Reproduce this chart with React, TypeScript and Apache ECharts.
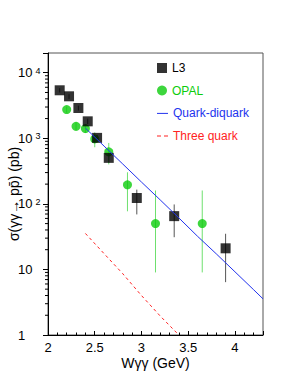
import React, { useEffect, useRef } from "react";
import * as echarts from "echarts";

const l3W = [2.125, 2.225, 2.325, 2.425, 2.525, 2.65, 2.95, 3.35, 3.9];
const l3Val = [5400, 4370, 2900, 1815, 1015, 503, 123, 65, 21];
const l3Lo = [5000, 4000, 2650, 1650, 900, 420, 69, 31, 6.4];
const l3Hi = [5800, 4700, 3150, 2000, 1130, 590, 165, 98, 35];

const opalW = [2.2, 2.3, 2.4, 2.5, 2.65, 2.85, 3.15, 3.65];
const opalVal = [2740, 1524, 1406, 979, 623, 195, 50, 50];
const opalLo = [2450, 1300, 1200, 730, 400, 77, 9, 9];
const opalHi = [3050, 1750, 1600, 1230, 850, 303, 160, 160];

const qdW = [2.4, 2.6, 2.8, 3.0, 3.2, 3.4, 3.6, 3.8, 4.0, 4.2, 4.3];
const qdVal = [1430, 760, 405, 215, 115, 61, 32, 17.3, 9.2, 4.9, 3.56];

const tqW = [2.4, 2.6, 2.8, 3.0, 3.2, 3.4];
const tqVal = [35.4, 17.4, 8.6, 4.0, 1.95, 1.0];

const yMinorTicks = [2, 3, 4, 5, 6, 7, 8, 9, 20, 30, 40, 50, 60, 70, 80, 90, 200, 300, 400, 500, 600, 700, 800, 900, 2000, 3000, 4000, 5000, 6000, 7000, 8000, 9000];
const yPowerLabels: Record<number, string> = { 1: "{b|1}", 10: "{b|10}", 100: "{b|10}{s|2}", 1000: "{b|10}{s|3}", 10000: "{b|10}{s|4}" };

const FONT = "Liberation Sans, Arial, Helvetica, sans-serif";
const GREEN = "#0ccc0c";
const BLUE = "#2233ee";
const RED = "#ff2222";

export default function App() {
  const ref = useRef<HTMLDivElement>(null);
  useEffect(() => {
    if (!ref.current) return;
    const chart = echarts.init(ref.current, undefined, { renderer: "svg" });
    const errBar = (color: string) => (params: any, api: any) => {
      const lo = api.coord([api.value(0), api.value(1)]);
      const hi = api.coord([api.value(0), api.value(2)]);
      return {
        type: "line",
        shape: { x1: lo[0], y1: lo[1], x2: hi[0], y2: hi[1] },
        style: { stroke: color, lineWidth: 1 },
      };
    };
    chart.setOption({
      animation: false,
      textStyle: { fontFamily: FONT },
      grid: {
        left: 48,
        right: 28,
        top: 53,
        bottom: 41,
        show: true,
        borderColor: "#555",
        borderWidth: 1,
        containLabel: false,
        outerBoundsMode: "none",
      },
      legend: [
        {
          orient: "vertical",
          left: 152,
          top: 57,
          itemWidth: 10,
          itemHeight: 10,
          itemGap: 10.5,
          textStyle: { fontSize: 12, fontFamily: FONT },
          data: [
            { name: "L3", icon: "rect", textStyle: { color: "#000" } },
            { name: "OPAL", icon: "circle", textStyle: { color: GREEN } },
          ],
        },
        {
          orient: "vertical",
          left: 152,
          top: 102.4,
          itemWidth: 11,
          itemHeight: 1,
          itemGap: 10.5,
          textStyle: { fontSize: 12, fontFamily: FONT },
          data: [
            { name: "Quark-diquark", icon: "rect", textStyle: { color: BLUE } },
            { name: "Three quark", icon: "path://M0,0h4v1h-4zM7,0h4v1h-4z", textStyle: { color: RED } },
          ],
        },
      ],
      xAxis: [
        {
          type: "value",
          min: 2,
          max: 4.3,
          interval: 0.5,
          name: "Wγγ (GeV)",
          nameLocation: "middle",
          nameGap: 21,
          nameMoveOverlap: false,
          nameTextStyle: { fontSize: 14, color: "#000", fontFamily: FONT },
          axisLine: { show: true, lineStyle: { color: "#000", width: 1 } },
          axisTick: { show: true, inside: true, length: 4, lineStyle: { color: "#000" } },
          axisLabel: {
            color: "#000",
            fontSize: 13,
            margin: 6,
            fontFamily: FONT,
            formatter: (v: number) => (Math.abs(v * 2 - Math.round(v * 2)) < 1e-6 ? String(v) : ""),
          },
          splitLine: { show: false },
        },
        {
          type: "value",
          min: 2,
          max: 4.3,
          interval: 0.1,
          position: "bottom",
          axisLine: { show: false },
          axisTick: { show: true, inside: true, length: 2.5, lineStyle: { color: "#000" } },
          axisLabel: { show: false },
          splitLine: { show: false },
        },
      ],
      yAxis: {
        type: "log",
        min: 1,
        max: 20000,
        name: "σ(γγ→ pp\u0304) (pb)",
        nameLocation: "middle",
        nameGap: 27,
        nameMoveOverlap: false,
        nameTextStyle: { fontSize: 14, color: "#000", fontFamily: FONT },
        axisLine: { show: true, lineStyle: { color: "#000", width: 1 } },
        axisTick: { show: true, inside: false, length: 5, lineStyle: { color: "#000" } },
        axisLabel: {
          color: "#000",
          margin: 30,
          align: "left",
          formatter: (v: number) => (yPowerLabels[Math.round(v)] && Math.abs(v - Math.round(v)) < 1e-6 ? yPowerLabels[Math.round(v)] : ""),
          rich: {
            b: { fontSize: 13, lineHeight: 13, fontFamily: FONT, color: "#000" },
            s: { fontSize: 9, lineHeight: 9, verticalAlign: "top", padding: [0, 0, 4, 3], fontFamily: FONT, color: "#000" },
          },
        },
        splitLine: { show: false },
      },
      series: [
        {
          type: "custom",
          name: "yminor",
          silent: true,
          clip: false,
          data: yMinorTicks.map((v) => [2, v]),
          encode: { x: 0, y: 1 },
          renderItem: (params: any, api: any) => {
            const p = api.coord([2, api.value(1)]);
            return {
              type: "line",
              shape: { x1: p[0] - 3, y1: p[1], x2: p[0], y2: p[1] },
              style: { stroke: "#000", lineWidth: 1 },
            };
          },
        },
        {
          type: "custom",
          name: "l3err",
          silent: true,
          data: l3W.map((w, i) => [w, l3Lo[i], l3Hi[i]]),
          encode: { x: 0, y: [1, 2] },
          renderItem: errBar("#555"),
        },
        {
          type: "custom",
          name: "opalerr",
          silent: true,
          data: opalW.map((w, i) => [w, opalLo[i], opalHi[i]]),
          encode: { x: 0, y: [1, 2] },
          renderItem: errBar("#6ee06e"),
        },
        {
          type: "line",
          name: "Quark-diquark",
          data: qdW.map((w, i) => [w, qdVal[i]]),
          symbol: "none",
          lineStyle: { color: BLUE, width: 1 },
          itemStyle: { color: BLUE },
        },
        {
          type: "line",
          name: "Three quark",
          data: tqW.map((w, i) => [w, tqVal[i]]),
          symbol: "none",
          lineStyle: { color: RED, width: 1, type: [3, 3] },
          itemStyle: { color: RED },
        },
        {
          type: "scatter",
          name: "OPAL",
          data: opalW.map((w, i) => [w, opalVal[i]]),
          symbol: "circle",
          symbolSize: 9,
          itemStyle: { color: GREEN },
        },
        {
          type: "scatter",
          name: "L3",
          data: l3W.map((w, i) => [w, l3Val[i]]),
          symbol: "rect",
          symbolSize: 10,
          itemStyle: { color: "#000" },
        },
      ],
    });
    return () => chart.dispose();
  }, []);
  return <div ref={ref} style={{ width: 291, height: 376, position: "absolute", left: 0, top: 0 }} />;
}
